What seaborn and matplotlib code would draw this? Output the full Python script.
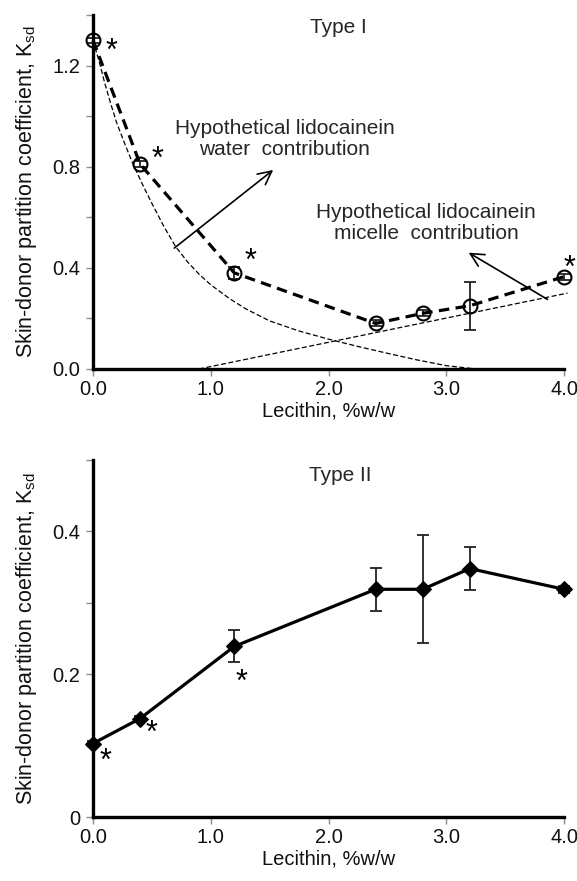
import matplotlib
matplotlib.use("Agg")
import matplotlib.pyplot as plt
import seaborn as sns
import pandas as pd

# ---------------- data ----------------
lecithin = [0.0, 0.4, 1.2, 2.4, 2.8, 3.2, 4.0]

type1_ksd = [1.30, 0.81, 0.38, 0.18, 0.22, 0.25, 0.365]
type1_err = [0.01, 0.012, 0.025, 0.012, 0.012, 0.095, 0.012]

type2_ksd = [0.103, 0.138, 0.239, 0.319, 0.319, 0.348, 0.319]
type2_err = [0.003, 0.004, 0.0225, 0.0305, 0.0755, 0.030, 0.005]

water_x = [0.0, 0.05, 0.1, 0.15, 0.2, 0.27, 0.34, 0.42, 0.5, 0.6, 0.7,
           0.8, 0.9, 1.0, 1.16, 1.3, 1.5, 1.75, 2.0, 2.25, 2.5, 2.75,
           3.0, 3.25]
water_y = [1.30, 1.22, 1.13, 1.05, 0.975, 0.89, 0.81, 0.73, 0.655, 0.565,
           0.485, 0.425, 0.375, 0.333, 0.278, 0.237, 0.19, 0.15, 0.118,
           0.089, 0.062, 0.036, 0.013, 0.0]

micelle_x = [0.9, 4.03]
micelle_y = [0.0, 0.30]

x_ticks = [0, 1, 2, 3, 4]
x_ticklabels = ["0.0", "1.0", "2.0", "3.0", "4.0"]
top_yticks = [0.0, 0.2, 0.4, 0.6, 0.8, 1.0, 1.2, 1.4]
top_yticklabels = ["0.0", "", "0.4", "", "0.8", "", "1.2", ""]
bot_yticks = [0.0, 0.1, 0.2, 0.3, 0.4, 0.5]
bot_yticklabels = ["0", "", "0.2", "", "0.4", ""]

top_stars_x = [0.16, 0.55, 1.34, 4.05]
top_stars_y = [1.255, 0.825, 0.425, 0.395]
bot_stars_x = [0.11, 0.50, 1.26]
bot_stars_y = [0.077, 0.117, 0.188]

xlabel = "Lecithin, %w/w"
ylabel = "Skin-donor partition coefficient, K$_{\\mathregular{sd}}$"

# ---------------- style ----------------
sns.set_theme(style="white")
plt.rcParams["font.family"] = ["Liberation Sans", "DejaVu Sans"]
plt.rcParams["mathtext.default"] = "regular"

fig = plt.figure(figsize=(5.77, 8.81), dpi=100)
ax1 = fig.add_axes([0.1612, 0.5812, 0.8163, 0.4018])
ax2 = fig.add_axes([0.1612, 0.0726, 0.8163, 0.4052])

df1 = pd.DataFrame({"x": lecithin, "y": type1_ksd, "e": type1_err})
df2 = pd.DataFrame({"x": lecithin, "y": type2_ksd, "e": type2_err})

LABEL = 14.5
YLABEL = 15.5
ANNOT = 15
TITLE = 15
TICK = 14.5


def style_axes(ax, yticks, yticklabels, ylim):
    ax.set_xlim(0, 4)
    ax.set_ylim(*ylim)
    ax.set_xticks(x_ticks)
    ax.set_xticklabels(x_ticklabels)
    ax.set_yticks(yticks)
    ax.set_yticklabels(yticklabels)
    for s in ["top", "right"]:
        ax.spines[s].set_visible(False)
    for s in ["left", "bottom"]:
        ax.spines[s].set_color("black")
        ax.spines[s].set_linewidth(2.4)
        ax.spines[s].set_zorder(5)
    ax.tick_params(axis="both", which="major", direction="out", length=5,
                   width=1, color="#8a8a8a", labelsize=TICK, labelcolor="#111111",
                   left=True, bottom=True)
    ax.tick_params(axis="y", pad=4)
    ax.tick_params(axis="x", pad=3)
    ax.set_xlabel(xlabel, fontsize=LABEL, labelpad=2, color="#111111")
    ax.set_ylabel(ylabel, fontsize=YLABEL, labelpad=10, color="#111111")
    ax.grid(False)


# ---------------- top panel (Type I) ----------------
ax1.plot(water_x, water_y, color="black", lw=0.9, dashes=(4, 2), clip_on=False)
ax1.plot(micelle_x, micelle_y, color="black", lw=0.9, dashes=(4, 2), clip_on=False)

ax1.errorbar(df1["x"], df1["y"], yerr=df1["e"], fmt="none", ecolor="#222222",
             elinewidth=1.3, capsize=4.5, capthick=1.3, zorder=3, clip_on=False)
sns.lineplot(data=df1, x="x", y="y", ax=ax1, color="black", lw=2.3,
             dashes=False, linestyle=(0, (3.3, 2.0)), marker="o", markersize=10,
             markerfacecolor="none", markeredgecolor="black",
             markeredgewidth=1.5, zorder=4, clip_on=False)

for sx, sy in zip(top_stars_x, top_stars_y):
    ax1.text(sx, sy, "*", fontsize=22, ha="center", va="center",
             color="black", clip_on=False)

ax1.text(2.08, 1.35, "Type I", fontsize=TITLE, ha="center", va="center")
ax1.text(1.63, 0.91, "Hypothetical lidocainein\nwater  contribution",
         fontsize=ANNOT, ha="center", va="center", linespacing=1.15)
ax1.annotate("", xy=(1.53, 0.787), xytext=(0.69, 0.478),
             arrowprops=dict(arrowstyle="->", lw=1.2, color="black",
                             mutation_scale=24, shrinkA=0, shrinkB=0))
ax1.text(2.83, 0.578, "Hypothetical lidocainein\nmicelle  contribution",
         fontsize=ANNOT, ha="center", va="center", linespacing=1.15)
ax1.annotate("", xy=(3.19, 0.46), xytext=(3.86, 0.275),
             arrowprops=dict(arrowstyle="->", lw=1.2, color="black",
                             mutation_scale=24, shrinkA=0, shrinkB=0))

style_axes(ax1, top_yticks, top_yticklabels, (0, 1.4))

# ---------------- bottom panel (Type II) ----------------
ax2.errorbar(df2["x"], df2["y"], yerr=df2["e"], fmt="none", ecolor="#222222",
             elinewidth=1.3, capsize=4.5, capthick=1.3, zorder=3, clip_on=False)
sns.lineplot(data=df2, x="x", y="y", ax=ax2, color="black", lw=2.3,
             marker="D", markersize=8, markerfacecolor="black",
             markeredgecolor="black", zorder=4, clip_on=False)

for sx, sy in zip(bot_stars_x, bot_stars_y):
    ax2.text(sx, sy, "*", fontsize=22, ha="center", va="center",
             color="black", clip_on=False)

ax2.text(2.1, 0.479, "Type II", fontsize=TITLE, ha="center", va="center")

style_axes(ax2, bot_yticks, bot_yticklabels, (0, 0.5))

fig.savefig("out.png", dpi=100)
